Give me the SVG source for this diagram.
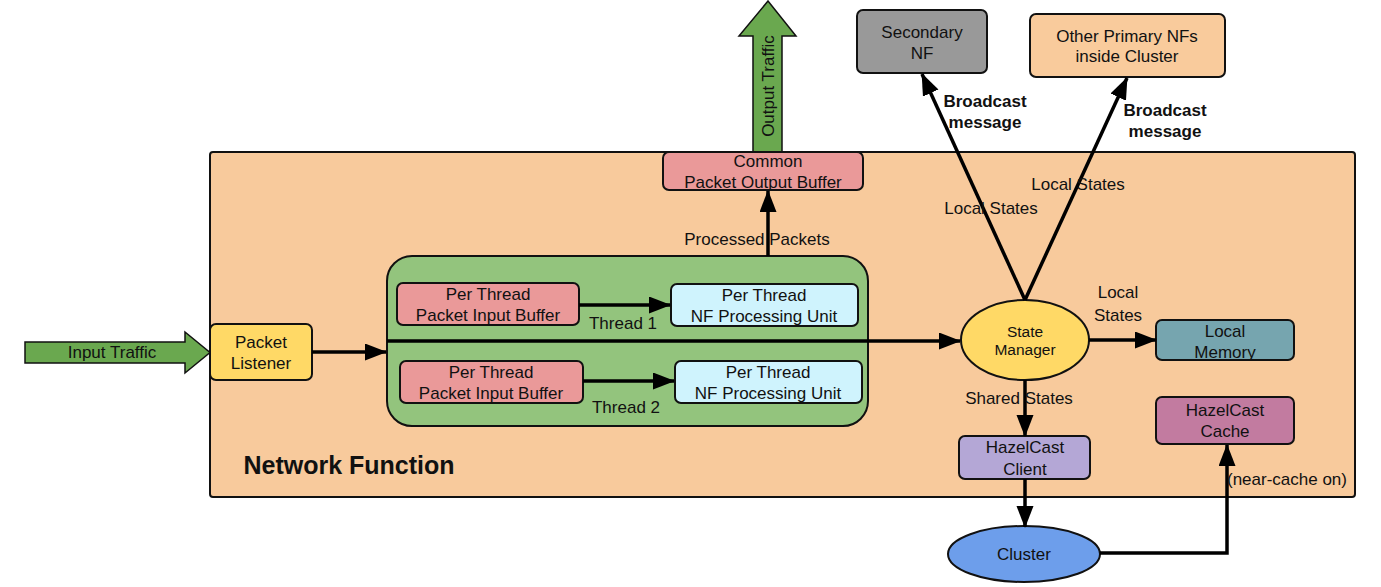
<svg xmlns="http://www.w3.org/2000/svg" width="1381" height="587" viewBox="0 0 1381 587">
<style>
text{font-family:"Liberation Sans",Arial,sans-serif;font-size:17px;fill:#111;text-anchor:middle}
.b{stroke:#111;stroke-width:2}
.c{stroke:#000;stroke-width:3.5;fill:none}
.bold{font-weight:bold}
.s{font-size:15.5px}
</style>
<defs>
<marker id="ah" markerUnits="userSpaceOnUse" markerWidth="22" markerHeight="18" refX="21" refY="8.5" orient="auto">
<path d="M0,0 L22,8.5 L0,17 z" fill="#000"/>
</marker>
</defs>
<rect width="1381" height="587" fill="#fff"/>
<g id="network-function">
<rect x="210" y="152" width="1145" height="345" rx="3" fill="#F8CA9C" class="b"/>
<text x="349" y="474" class="bold" style="font-size:25px">Network Function</text>
</g>
<g id="output-traffic">
<path d="M753,152 L753,36 L739,36 L768,1 L796,36 L782,36 L782,152 z" fill="#6AA84F" stroke="#111" stroke-width="1.5"/>
<text transform="translate(774,86) rotate(-90)">Output Traffic</text>
</g>
<g id="input-traffic">
<path d="M25,342 L185,342 L185,332 L210,352.5 L185,373 L185,363 L25,363 z" fill="#6AA84F" stroke="#111" stroke-width="1.5"/>
<text x="112" y="358">Input Traffic</text>
</g>
<g id="output-buffer">
<rect x="663" y="152" width="200" height="38" rx="6" fill="#EA9999" class="b"/>
<text x="768" y="167">Common</text>
<text x="763" y="188">Packet Output Buffer</text>
</g>
<g id="thread-container">
<rect x="387" y="256" width="481" height="170" rx="25" fill="#93C47D" class="b"/>
</g>
<g id="input-buffer-1">
<rect x="397" y="283" width="182" height="42" rx="6" fill="#EA9999" class="b"/>
<text x="488" y="300">Per Thread</text>
<text x="488" y="321">Packet Input Buffer</text>
</g>
<g id="nf-unit-1">
<rect x="671" y="284" width="187" height="42" rx="6" fill="#CFF3FD" class="b"/>
<text x="764" y="301">Per Thread</text>
<text x="764" y="322">NF Processing Unit</text>
</g>
<g id="input-buffer-2">
<rect x="400" y="361" width="183" height="42" rx="6" fill="#EA9999" class="b"/>
<text x="491" y="378">Per Thread</text>
<text x="491" y="399">Packet Input Buffer</text>
</g>
<g id="nf-unit-2">
<rect x="675" y="361" width="187" height="42" rx="6" fill="#CFF3FD" class="b"/>
<text x="768" y="378">Per Thread</text>
<text x="768" y="399">NF Processing Unit</text>
</g>
<g id="packet-listener">
<rect x="210" y="324" width="102" height="56" rx="6" fill="#FFD966" class="b"/>
<text x="261" y="348">Packet</text>
<text x="261" y="369">Listener</text>
</g>
<g id="state-manager">
<ellipse cx="1025" cy="340" rx="64" ry="40" fill="#FFD966" class="b"/>
<text x="1025" y="337" class="s">State</text>
<text x="1025" y="355" class="s">Manager</text>
</g>
<g id="local-memory">
<rect x="1156" y="320" width="138" height="40" rx="6" fill="#76A5AF" class="b"/>
<text x="1225" y="337">Local</text>
<text x="1225" y="358">Memory</text>
</g>
<g id="hazelcast-cache">
<rect x="1156" y="397" width="138" height="47" rx="6" fill="#C27BA0" class="b"/>
<text x="1225" y="416">HazelCast</text>
<text x="1225" y="437">Cache</text>
</g>
<g id="hazelcast-client">
<rect x="959" y="436" width="131" height="43" rx="6" fill="#B4A7D6" class="b"/>
<text x="1025" y="453">HazelCast</text>
<text x="1025" y="475">Client</text>
</g>
<g id="cluster">
<ellipse cx="1024" cy="554" rx="76" ry="28" fill="#6D9EEB" class="b"/>
<text x="1024" y="560">Cluster</text>
</g>
<g id="secondary-nf">
<rect x="857" y="10" width="130" height="63" rx="6" fill="#999999" class="b"/>
<text x="922" y="38">Secondary</text>
<text x="922" y="59">NF</text>
</g>
<g id="other-primary-nfs">
<rect x="1030" y="14" width="195" height="63" rx="6" fill="#F9CB9C" class="b"/>
<text x="1127" y="42">Other Primary NFs</text>
<text x="1127" y="62">inside Cluster</text>
</g>
<g id="connectors">
<line x1="312" y1="352" x2="386" y2="352" class="c" marker-end="url(#ah)"/>
<line x1="387" y1="341" x2="960" y2="341" class="c" marker-end="url(#ah)"/>
<line x1="579" y1="305" x2="670" y2="305" class="c" marker-end="url(#ah)"/>
<line x1="583" y1="381" x2="674" y2="381" class="c" marker-end="url(#ah)"/>
<line x1="768" y1="256" x2="768" y2="191" class="c" marker-end="url(#ah)"/>
<line x1="1089" y1="340" x2="1156" y2="340" class="c" marker-end="url(#ah)"/>
<line x1="1025" y1="380" x2="1025" y2="436" class="c" marker-end="url(#ah)"/>
<line x1="1025" y1="479" x2="1025" y2="527" class="c" marker-end="url(#ah)"/>
<line x1="1025" y1="300" x2="922" y2="74" class="c" marker-end="url(#ah)"/>
<line x1="1025" y1="300" x2="1127" y2="78" class="c" marker-end="url(#ah)"/>
<polyline points="1100,553 1227,553 1227,445" class="c" marker-end="url(#ah)"/>
</g>
<g id="labels">
<text x="757" y="245">Processed Packets</text>
<text x="623" y="329">Thread 1</text>
<text x="626" y="413">Thread 2</text>
<text x="1118" y="298">Local</text>
<text x="1118" y="321">States</text>
<text x="1019" y="404">Shared States</text>
<text x="1287" y="485">(near-cache on)</text>
<text x="991" y="214">Local States</text>
<text x="1078" y="190">Local States</text>
<text x="985" y="107" class="bold">Broadcast</text>
<text x="985" y="128" class="bold">message</text>
<text x="1165" y="116" class="bold">Broadcast</text>
<text x="1165" y="137" class="bold">message</text>
</g>
</svg>
